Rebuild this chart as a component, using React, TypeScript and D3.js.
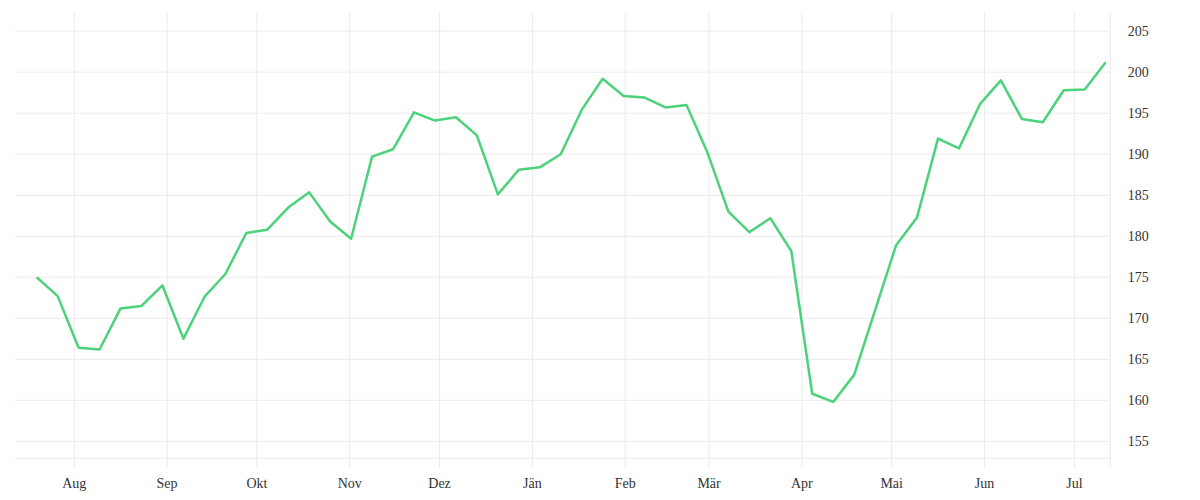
import * as React from "react";
import * as d3 from "d3";

// weekly closing values
const values: number[] = [
  175.0, 172.7, 166.4, 166.2, 171.2, 171.5, 174.0, 167.5, 172.6, 175.4,
  180.4, 180.8, 183.5, 185.35, 181.8, 179.7, 189.7, 190.6, 195.1, 194.1,
  194.5, 192.3, 185.1, 188.1, 188.4, 190.0, 195.4, 199.2, 197.1, 196.9,
  195.7, 196.0, 190.2, 183.0, 180.5, 182.2, 178.2, 160.8, 159.8, 163.1,
  171.0, 178.9, 182.3, 191.9, 190.7, 196.1, 199.0, 194.3, 193.9, 197.8,
  197.9, 201.2,
];

const firstWeek = new Date(2022, 6, 19, 11);
const dates = values.map((_, i) => d3.timeDay.offset(firstWeek, 7 * i));

const monthLabels = ["Aug", "Sep", "Okt", "Nov", "Dez", "Jän", "Feb", "Mär", "Apr", "Mai", "Jun", "Jul"];
const monthTicks = d3.timeMonth.range(new Date(2022, 7, 1), new Date(2023, 6, 2));
const yTicks = [155, 160, 165, 170, 175, 180, 185, 190, 195, 200, 205];

const W = 1200;
const H = 500;
const PLOT = { left: 15, right: 1110.3, top: 12.3, bottom: 458.3 };
const GRID = "#ebebeb";
const LINE = "#4cd27b";
const FONT = "'Liberation Serif', 'DejaVu Serif', serif";

export default function App() {
  const x = d3
    .scaleTime()
    .domain([new Date(2022, 6, 12, 5), new Date(2023, 6, 13)])
    .range([PLOT.left, PLOT.right]);
  const y = d3.scaleLinear().domain([152.93, 207.3]).range([PLOT.bottom, PLOT.top]);

  const line = d3
    .line<number>()
    .x((_, i) => x(dates[i]))
    .y((d) => y(d));

  return (
    <svg
      width={W}
      height={H}
      style={{ position: "absolute", left: 0, top: 0, background: "#fff" }}
    >
      {/* horizontal gridlines */}
      {yTicks.map((t) => (
        <line
          key={`yg-${t}`}
          x1={PLOT.left}
          x2={PLOT.right}
          y1={y(t)}
          y2={y(t)}
          stroke={GRID}
          strokeWidth={1}
        />
      ))}
      <line x1={PLOT.left} x2={PLOT.right} y1={PLOT.bottom} y2={PLOT.bottom} stroke={GRID} />

      {/* vertical month gridlines, running past the bottom as ticks */}
      {monthTicks.map((m) => (
        <line
          key={`xg-${m.getTime()}`}
          x1={x(m)}
          x2={x(m)}
          y1={PLOT.top}
          y2={PLOT.bottom + 10}
          stroke={GRID}
        />
      ))}
      <line x1={PLOT.right} x2={PLOT.right} y1={PLOT.top} y2={PLOT.bottom + 10} stroke={GRID} />

      {/* series */}
      <path
        d={line(values) ?? ""}
        fill="none"
        stroke={LINE}
        strokeWidth={2.5}
        strokeLinejoin="round"
      />

      {/* x labels */}
      {monthTicks.map((m, i) => (
        <text
          key={`xl-${i}`}
          x={x(m)}
          y={488}
          textAnchor="middle"
          fontFamily={FONT}
          fontSize={14}
          fill="#333"
        >
          {monthLabels[i]}
        </text>
      ))}

      {/* y labels on the right */}
      {yTicks.map((t) => (
        <text
          key={`yl-${t}`}
          x={PLOT.right + 17.5}
          y={y(t)}
          dy="0.35em"
          fontFamily={FONT}
          fontSize={14}
          fill="#333"
        >
          {t}
        </text>
      ))}
    </svg>
  );
}
